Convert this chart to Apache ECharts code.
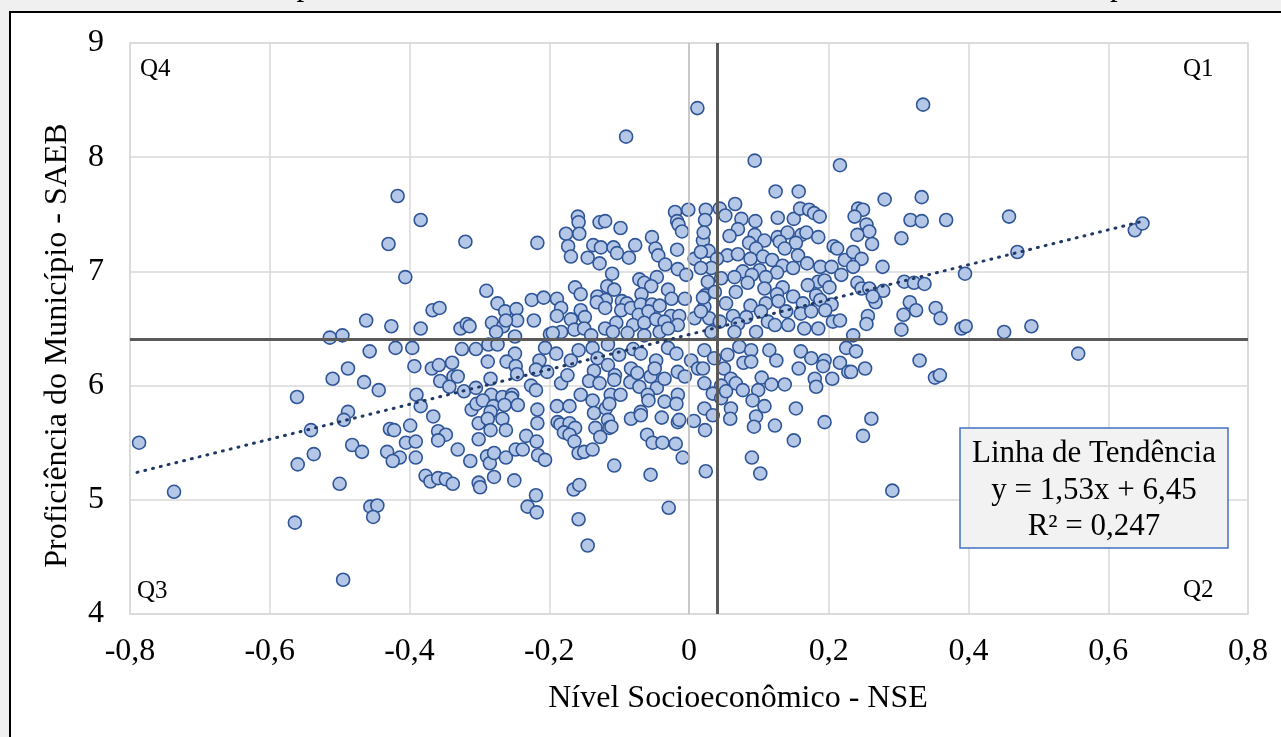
<!DOCTYPE html>
<html><head><meta charset="utf-8">
<script src="https://cdn.jsdelivr.net/npm/echarts@6/dist/echarts.min.js"></script>
<style>
html,body{margin:0;padding:0;background:#f0f0f0;width:1281px;height:737px;overflow:hidden;}
#frame{position:absolute;left:9px;top:11px;width:1300px;height:760px;border:2px solid #000;background:#fff;box-sizing:border-box;}
#chart{position:absolute;left:0;top:0;width:1281px;height:737px;}
</style></head><body>
<div id="frame"></div>
<div id="chart"></div>
<script>
// ---- data (NSE, SAEB proficiency) ----
const pointsFarLeft = [[-0.417,7.66],[-0.430,7.24],[-0.406,6.95],[-0.462,6.57],[-0.426,6.52],[-0.514,6.42],[-0.496,6.44],[-0.457,6.30],[-0.420,6.33],[-0.488,6.15],[-0.510,6.06],[-0.465,6.03],[-0.444,5.96],[-0.561,5.90],[-0.488,5.77],[-0.494,5.70],[-0.541,5.61],[-0.428,5.62],[-0.422,5.61],[-0.787,5.50],[-0.482,5.48],[-0.468,5.42],[-0.537,5.40],[-0.560,5.31],[-0.432,5.42],[-0.414,5.37],[-0.424,5.34],[-0.405,5.50],[-0.737,5.07],[-0.500,5.14],[-0.456,4.94],[-0.446,4.95],[-0.452,4.85],[-0.564,4.80],[-0.495,4.30]];
const pointsLeftUpper = [[-0.384,7.45],[-0.320,7.26],[-0.217,7.25],[-0.290,6.83],[-0.274,6.72],[-0.367,6.66],[-0.357,6.68],[-0.225,6.75],[-0.208,6.77],[-0.263,6.65],[-0.247,6.67],[-0.246,6.57],[-0.222,6.57],[-0.282,6.55],[-0.266,6.52],[-0.262,6.57],[-0.384,6.50],[-0.327,6.50],[-0.318,6.54],[-0.314,6.52],[-0.276,6.47],[-0.249,6.43],[-0.199,6.45]];
const pointsLeftLower = [[-0.396,6.33],[-0.325,6.32],[-0.305,6.32],[-0.287,6.36],[-0.274,6.36],[-0.249,6.28],[-0.206,6.33],[-0.393,6.17],[-0.368,6.15],[-0.358,6.18],[-0.339,6.20],[-0.288,6.21],[-0.261,6.21],[-0.248,6.17],[-0.246,6.10],[-0.214,6.22],[-0.219,6.14],[-0.203,6.12],[-0.356,6.04],[-0.337,6.08],[-0.331,6.08],[-0.343,5.99],[-0.322,5.95],[-0.305,5.98],[-0.284,6.06],[-0.283,5.92],[-0.267,5.90],[-0.253,5.92],[-0.254,5.89],[-0.226,6.00],[-0.219,5.96],[-0.390,5.92],[-0.384,5.82],[-0.366,5.73],[-0.311,5.79],[-0.304,5.84],[-0.295,5.87],[-0.280,5.82],[-0.284,5.77],[-0.264,5.83],[-0.245,5.83],[-0.217,5.79],[-0.301,5.67],[-0.288,5.71],[-0.284,5.61],[-0.267,5.71],[-0.262,5.61],[-0.217,5.67],[-0.399,5.65],[-0.359,5.60],[-0.348,5.57],[-0.359,5.52],[-0.301,5.53],[-0.233,5.56],[-0.218,5.51],[-0.391,5.51],[-0.391,5.37],[-0.331,5.44],[-0.313,5.34],[-0.289,5.38],[-0.285,5.32],[-0.279,5.41],[-0.262,5.37],[-0.248,5.44],[-0.238,5.44],[-0.216,5.39],[-0.206,5.35],[-0.279,5.20],[-0.250,5.17],[-0.377,5.21],[-0.370,5.16],[-0.359,5.19],[-0.348,5.18],[-0.338,5.14],[-0.301,5.15],[-0.299,5.11],[-0.219,5.04],[-0.231,4.94],[-0.218,4.89]];
const pointsCenterLeftUpper = [[0.012,8.43],[-0.090,8.18],[-0.159,7.48],[-0.158,7.43],[-0.176,7.33],[-0.157,7.33],[-0.128,7.43],[-0.120,7.44],[-0.098,7.38],[-0.020,7.52],[-0.001,7.54],[-0.017,7.44],[-0.015,7.41],[-0.010,7.35],[-0.053,7.30],[-0.173,7.22],[-0.169,7.13],[-0.145,7.12],[-0.137,7.23],[-0.126,7.21],[-0.108,7.21],[-0.103,7.16],[-0.128,7.07],[-0.086,7.12],[-0.077,7.23],[-0.048,7.20],[-0.044,7.14],[-0.034,7.06],[-0.017,7.19],[-0.016,7.02],[-0.004,6.97],[0.008,7.11],[-0.110,6.98],[-0.071,6.93],[-0.064,6.90],[-0.046,6.95],[-0.054,6.87],[-0.117,6.87],[-0.107,6.84],[-0.163,6.86],[-0.155,6.80],[-0.030,6.84],[-0.068,6.80],[-0.025,6.76],[-0.006,6.76],[-0.189,6.76],[-0.183,6.68],[-0.131,6.78],[-0.119,6.75],[-0.132,6.73],[-0.155,6.66],[-0.149,6.60],[-0.189,6.61],[-0.169,6.58],[-0.120,6.68],[-0.096,6.74],[-0.089,6.72],[-0.097,6.66],[-0.083,6.68],[-0.069,6.71],[-0.053,6.71],[-0.072,6.62],[-0.058,6.65],[-0.042,6.70],[-0.026,6.61],[-0.014,6.61],[0.008,6.59],[-0.104,6.55],[-0.080,6.53],[-0.064,6.55],[-0.047,6.58],[-0.035,6.56],[-0.016,6.53],[-0.183,6.47],[-0.164,6.49],[-0.150,6.50],[-0.120,6.50],[-0.109,6.47],[-0.088,6.46],[-0.064,6.44],[-0.042,6.47],[-0.030,6.50],[-0.195,6.46],[-0.140,6.44]];
const pointsCenterLeftLower = [[-0.190,6.28],[-0.169,6.22],[-0.158,6.31],[-0.138,6.33],[-0.131,6.24],[-0.116,6.36],[-0.100,6.27],[-0.080,6.32],[-0.069,6.28],[-0.047,6.22],[-0.030,6.33],[-0.018,6.28],[0.003,6.22],[0.013,6.15],[-0.183,6.02],[-0.174,6.09],[-0.136,6.13],[-0.143,6.04],[-0.128,6.02],[-0.116,6.18],[-0.106,6.09],[-0.107,6.05],[-0.083,6.15],[-0.084,6.03],[-0.074,6.11],[-0.071,5.99],[-0.055,6.08],[-0.049,6.15],[-0.046,5.98],[-0.035,6.06],[-0.016,6.12],[-0.006,6.08],[-0.155,5.92],[-0.138,5.87],[-0.112,5.92],[-0.098,5.92],[-0.059,5.92],[-0.058,5.87],[-0.035,5.86],[-0.016,5.92],[-0.018,5.84],[-0.189,5.82],[-0.171,5.82],[-0.136,5.76],[-0.119,5.80],[-0.114,5.84],[-0.069,5.77],[-0.083,5.71],[-0.069,5.74],[-0.188,5.68],[-0.184,5.66],[-0.171,5.67],[-0.163,5.63],[-0.179,5.59],[-0.171,5.57],[-0.164,5.51],[-0.134,5.63],[-0.127,5.55],[-0.116,5.70],[-0.114,5.63],[-0.111,5.64],[-0.039,5.72],[-0.016,5.68],[-0.014,5.70],[0.007,5.69],[-0.060,5.57],[-0.052,5.50],[-0.038,5.50],[-0.019,5.49],[-0.009,5.37],[-0.158,5.41],[-0.150,5.42],[-0.138,5.44],[-0.107,5.30],[-0.055,5.22],[-0.165,5.09],[-0.157,5.13],[-0.029,4.93],[-0.158,4.83],[-0.145,4.60]];
const pointsCenterRightUpper = [[0.094,7.97],[0.216,7.93],[0.124,7.70],[0.157,7.70],[0.066,7.59],[0.044,7.55],[0.024,7.54],[0.052,7.49],[0.023,7.45],[0.075,7.46],[0.095,7.44],[0.127,7.47],[0.150,7.46],[0.159,7.55],[0.172,7.54],[0.179,7.51],[0.187,7.48],[0.070,7.37],[0.058,7.31],[0.020,7.27],[0.094,7.32],[0.127,7.30],[0.141,7.34],[0.161,7.32],[0.168,7.34],[0.185,7.30],[0.130,7.26],[0.086,7.25],[0.108,7.27],[0.153,7.25],[0.207,7.22],[0.212,7.20],[0.028,7.18],[0.055,7.14],[0.070,7.15],[0.096,7.20],[0.137,7.20],[0.156,7.14],[0.040,7.11],[0.088,7.11],[0.106,7.13],[0.119,7.10],[0.169,7.07],[0.188,7.04],[0.204,7.04],[0.223,7.10],[0.032,7.03],[0.134,7.05],[0.149,7.03],[0.077,7.00],[0.101,7.01],[0.126,6.99],[0.090,6.97],[0.218,6.97],[0.027,6.91],[0.046,6.94],[0.065,6.95],[0.110,6.95],[0.084,6.90],[0.185,6.91],[0.194,6.92],[0.134,6.86],[0.108,6.85],[0.170,6.88],[0.201,6.86],[0.023,6.79],[0.037,6.82],[0.067,6.82],[0.126,6.80],[0.149,6.78],[0.182,6.79],[0.022,6.69],[0.053,6.72],[0.088,6.70],[0.110,6.72],[0.128,6.74],[0.163,6.72],[0.188,6.75],[0.204,6.71],[0.063,6.61],[0.082,6.60],[0.103,6.65],[0.139,6.65],[0.160,6.63],[0.175,6.65],[0.195,6.66],[0.029,6.59],[0.044,6.56],[0.070,6.54],[0.113,6.56],[0.123,6.53],[0.142,6.53],[0.165,6.50],[0.185,6.50],[0.206,6.56],[0.216,6.57],[0.032,6.47],[0.065,6.47],[0.096,6.47],[0.017,6.65],[0.020,6.77],[0.017,7.03],[0.017,7.17],[0.021,7.34]];
const pointsCenterRightLower = [[0.022,6.31],[0.036,6.24],[0.055,6.27],[0.072,6.34],[0.089,6.31],[0.115,6.31],[0.125,6.22],[0.078,6.20],[0.089,6.21],[0.160,6.30],[0.175,6.24],[0.194,6.22],[0.192,6.17],[0.216,6.20],[0.228,6.12],[0.225,6.33],[0.157,6.15],[0.180,6.06],[0.182,5.99],[0.205,6.06],[0.020,6.15],[0.050,6.15],[0.060,6.06],[0.067,6.02],[0.046,6.00],[0.022,6.02],[0.077,5.96],[0.104,6.07],[0.118,6.01],[0.137,6.01],[0.099,5.96],[0.034,5.93],[0.046,5.89],[0.053,5.95],[0.091,5.87],[0.108,5.82],[0.060,5.80],[0.022,5.80],[0.034,5.74],[0.096,5.73],[0.059,5.71],[0.093,5.64],[0.123,5.65],[0.153,5.80],[0.194,5.68],[0.023,5.61],[0.150,5.52],[0.090,5.37],[0.102,5.23],[0.024,5.25]];
const pointsRight = [[0.335,8.46],[0.280,7.63],[0.333,7.65],[0.242,7.55],[0.249,7.54],[0.237,7.48],[0.317,7.45],[0.333,7.44],[0.368,7.45],[0.254,7.41],[0.258,7.35],[0.241,7.32],[0.262,7.24],[0.304,7.29],[0.235,7.17],[0.247,7.11],[0.235,7.04],[0.277,7.04],[0.395,6.98],[0.241,6.90],[0.247,6.85],[0.258,6.85],[0.278,6.83],[0.308,6.91],[0.322,6.90],[0.337,6.89],[0.267,6.73],[0.263,6.78],[0.316,6.73],[0.325,6.66],[0.353,6.68],[0.307,6.62],[0.360,6.59],[0.256,6.61],[0.254,6.54],[0.304,6.49],[0.390,6.50],[0.396,6.52],[0.235,6.44],[0.239,6.30],[0.232,6.12],[0.252,6.15],[0.330,6.22],[0.352,6.07],[0.359,6.09],[0.261,5.71],[0.249,5.56],[0.291,5.08]];
const pointsFarRight = [[0.458,7.48],[0.470,7.17],[0.451,6.47],[0.490,6.52],[0.557,6.28],[0.638,7.36],[0.649,7.42]];

const trendLine = [[-0.79,5.24],[0.65,7.44]];
const nseDivider = 0.044;
const saebDivider = 6.41;
const xTickMin = -0.8, xTickMax = 0.8, xTickStep = 0.2;
const yTickMin = 4, yTickMax = 9, yTickStep = 1;
const trendText = ['Linha de Tendência', 'y = 1,53x + 6,45', 'R² = 0,247'];
const quadrantLabels = ['Q1', 'Q2', 'Q3', 'Q4'];
const titleText = 'Gráfico 4: Dispersão entre a Proficiência e o Nível Socioeconômico dos Municípios';

const allPoints = [].concat(pointsFarLeft, pointsLeftUpper, pointsLeftLower, pointsCenterLeftUpper,
  pointsCenterLeftLower, pointsCenterRightUpper, pointsCenterRightLower, pointsRight, pointsFarRight);

const FONT = 'Liberation Serif';
const fmt = v => Math.abs(v) < 1e-9 ? '0' : (Number.isInteger(v) ? String(v) : v.toFixed(1).replace('.', ','));

const chart = echarts.init(document.getElementById('chart'), null, {renderer: 'canvas'});
const option = {
  animation: false,
  backgroundColor: 'transparent',
  grid: {left: 130, top: 43, width: 1118, height: 571, show: true, borderColor: '#d9d9d9', borderWidth: 1.5, backgroundColor: 'transparent'},
  xAxis: {
    type: 'value', min: xTickMin, max: xTickMax, interval: xTickStep,
    axisLine: {show: false}, axisTick: {show: false},
    splitLine: {show: true, lineStyle: {color: '#d9d9d9', width: 1.5}},
    axisLabel: {formatter: fmt, fontFamily: FONT, fontSize: 32, color: '#000', margin: 22},
    name: 'Nível Socioeconômico - NSE', nameLocation: 'middle', nameGap: 69,
    nameTextStyle: {fontFamily: FONT, fontSize: 32, color: '#000', padding: [0, 0, 0, 98]}
  },
  yAxis: {
    type: 'value', min: yTickMin, max: yTickMax, interval: yTickStep,
    axisLine: {show: false}, axisTick: {show: false},
    splitLine: {show: true, lineStyle: {color: '#d9d9d9', width: 1.5}},
    axisLabel: {formatter: fmt, fontFamily: FONT, fontSize: 32, color: '#000', margin: 26},
    name: 'Proficiência do Município - SAEB', nameLocation: 'middle', nameGap: 56,
    nameTextStyle: {fontFamily: FONT, fontSize: 32, color: '#000', padding: [0, 34, 0, 0]}
  },
  series: [
    {
      type: 'line', data: [], z: 1, silent: true,
      markLine: {silent: true, symbol: ['none', 'none'], label: {show: false},
        lineStyle: {color: '#bfbfbf', width: 1.5, type: 'solid'}, data: [{xAxis: 0}]}
    },
    {
      type: 'scatter', data: allPoints, z: 3, symbol: 'circle', symbolSize: 13,
      itemStyle: {color: '#b4c7e7', borderColor: '#2f5597', borderWidth: 1.6, opacity: 1}
    },
    {
      type: 'line', data: trendLine, z: 5, symbol: 'none', silent: true,
      lineStyle: {color: '#1f3864', width: 3, type: [1, 7], cap: 'round'}
    },
    {
      type: 'line', data: [], z: 6, silent: true,
      markLine: {silent: true, symbol: ['none', 'none'], label: {show: false},
        lineStyle: {color: '#595959', width: 3, type: 'solid'},
        data: [{xAxis: nseDivider}, {yAxis: saebDivider}]}
    }
  ],
  graphic: [
    {type: 'text', left: 'center', top: -29, z: 10, style: {text: titleText, font: '31px "' + FONT + '"', fill: '#000'}},
    {type: 'text', x: 1183, y: 57, z: 10, style: {text: quadrantLabels[0], font: '25px "' + FONT + '"', fill: '#000'}},
    {type: 'text', x: 1183, y: 578, z: 10, style: {text: quadrantLabels[1], font: '25px "' + FONT + '"', fill: '#000'}},
    {type: 'text', x: 137, y: 579, z: 10, style: {text: quadrantLabels[2], font: '25px "' + FONT + '"', fill: '#000'}},
    {type: 'text', x: 140, y: 57, z: 10, style: {text: quadrantLabels[3], font: '25px "' + FONT + '"', fill: '#000'}},
    {type: 'rect', z: 10, shape: {x: 960, y: 428, width: 268, height: 120},
      style: {fill: '#f2f2f2', stroke: '#4472c4', lineWidth: 1.5}},
    {type: 'text', z: 11, x: 1094, y: 454, style: {text: trendText[0], font: '31px "' + FONT + '"', fill: '#000', textAlign: 'center', textVerticalAlign: 'middle'}},
    {type: 'text', z: 11, x: 1094, y: 491, style: {text: trendText[1], font: '31px "' + FONT + '"', fill: '#000', textAlign: 'center', textVerticalAlign: 'middle'}},
    {type: 'text', z: 11, x: 1094, y: 527, style: {text: trendText[2], font: '31px "' + FONT + '"', fill: '#000', textAlign: 'center', textVerticalAlign: 'middle'}}
  ]
};
chart.setOption(option);
</script>
</body></html>
